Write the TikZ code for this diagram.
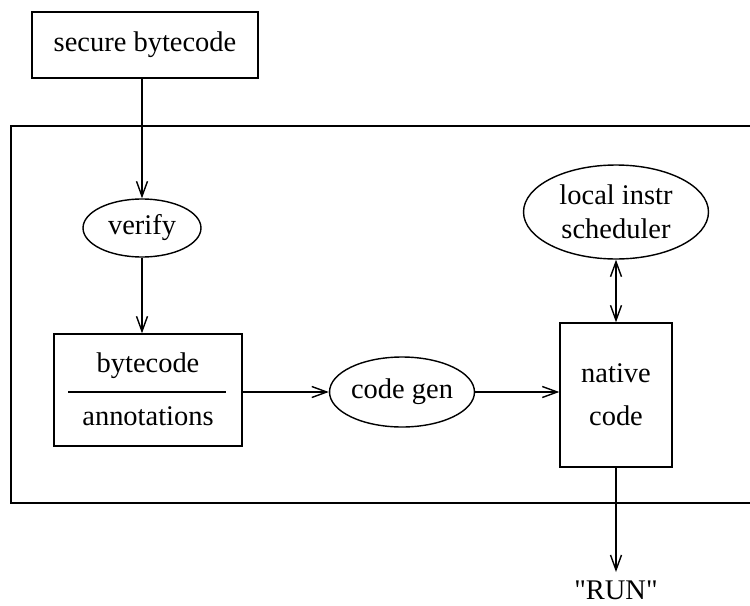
\documentclass[tikz,border=0pt]{standalone}
\usepackage{fontspec}
\setmainfont{Liberation Serif}
\usetikzlibrary{shapes.geometric, arrows.meta}

\begin{document}
\begin{tikzpicture}[x=0.02cm, y=-0.02cm, line width=0.8pt,
    >={Straight Barb[length=0.3cm, width=0.22cm]},
    font=\fontsize{16.2}{19.5}\selectfont,
    box/.style={draw, rectangle, inner sep=0pt},
    oval/.style={draw, ellipse, inner sep=0pt, align=center}]
    \useasboundingbox (0,0) rectangle (750,605);

    % Outer frame (runs past the right edge)
    \draw (11,126) rectangle (790,503);

    % Input
    \node[box, minimum width=4.52cm, minimum height=1.32cm] (secure) at (145,45) {secure bytecode};

    % Verifier
    \node[oval, minimum width=2.36cm, minimum height=1.16cm] (verify) at (142,228) {verify};

    % Bytecode with annotations
    \node[box, minimum width=3.76cm, minimum height=2.24cm] (bcbox) at (148,390) {};
    \node (bctop) at (148,366) {bytecode};
    \node (bcbot) at (148,416) {annotations};
    \coordinate (divL) at (68,392);
    \coordinate (divR) at (226,392);
    \draw (divL) -- (divR);

    % Code generator
    \node[oval, minimum width=2.9cm, minimum height=1.4cm] (codegen) at (402,392) {code gen};

    % Native code and scheduler
    \node[box, align=center, minimum width=2.24cm, minimum height=2.88cm] (native) at (616,395) {native\\[5pt]code};
    \node[oval, minimum width=3.7cm, minimum height=1.88cm] (sched) at (616,212) {local instr\\scheduler};

    % Output
    \node (run) at (616,590) {\textquotedbl RUN\textquotedbl};
    \coordinate (runtip) at (616,572);

    % Connectors
    \draw[->] (secure.south -| verify) -- (verify.north);
    \draw[->] (verify.south) -- (verify.south |- bcbox.north);
    \draw[->] (bcbox.east |- divL) -- (codegen.west);
    \draw[->] (codegen.east) -- (codegen.east -| native.west);
    \draw[<->] (sched.south) -- (native.north);
    \draw[->] (native.south) -- (runtip);
\end{tikzpicture}
\end{document}
